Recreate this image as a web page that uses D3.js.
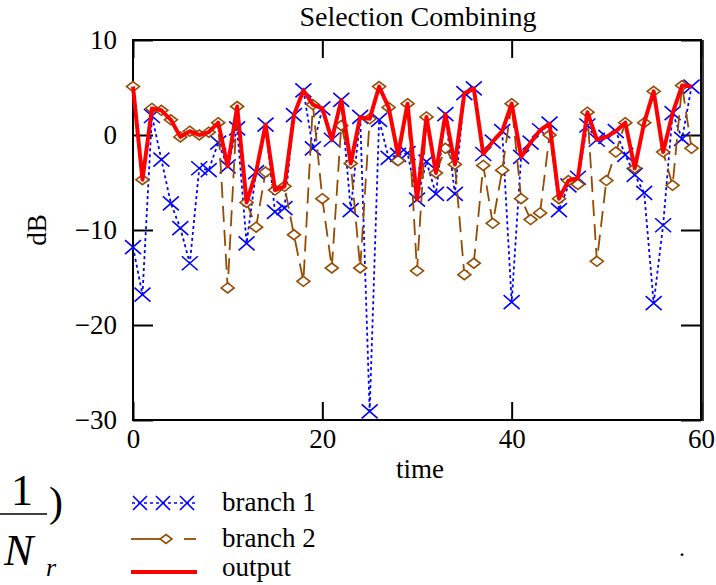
<!DOCTYPE html>
<html>
<head>
<meta charset="utf-8">
<script src="https://cdn.jsdelivr.net/npm/d3@7"></script>
<style>
  body { margin: 0; background: #fff; }
  svg text { font-family: "Liberation Serif", "Times New Roman", Times, "DejaVu Serif", serif; fill: #000; }
</style>
</head>
<body>
<svg id="chart" width="716" height="585"></svg>
<script>
// values, dB per time step 0..59
var branch1 = [-11.8, -16.8, 2.0, -2.6, -7.2, -9.8, -13.5, -3.5, -3.7, -0.8,
               -3.3, 0.7, -11.4, -3.9, 1.1, -8.1, -7.7, 2.1, 4.7, -1.4,
               2.8, -0.5, 3.7, -7.9, 1.9, -29.1, 1.6, -2.4, -2.1, -1.9,
               -6.8, -2.8, -6.2, 2.2, -6.2, 4.4, 4.9, -2.0, -0.7, 0.4,
               -17.6, -2.3, -0.8, 0.5, 1.2, -7.9, -5.3, -4.5, 1.0, -0.5,
               -0.2, 0.4, -2.1, -4.2, -6.1, -17.7, -9.5, 2.3, -0.4, 5.1]
var branch2 = [5.1, -4.7, 2.8, 2.6, 1.6, -0.2, 0.4, 0.0, 0.3, 1.3,
               -16.1, 3.0, -7.1, -9.7, -3.9, -5.8, -5.4, -10.5, -15.4, 3.2,
               -6.7, -14.0, 1.0, -3.0, -14.0, 1.7, 5.1, 2.9, -2.7, 3.3,
               -14.3, 1.9, -4.0, -1.4, -3.1, -14.7, -13.5, -3.2, -9.3, -3.7,
               3.3, -6.7, -8.9, -8.2, 0.0, -6.7, -4.8, -5.2, 2.4, -13.3,
               -4.8, -1.8, 1.3, -3.5, 1.3, 4.6, -1.8, -5.3, 5.2, -1.4]
var output  = [5.1, -4.7, 2.8, 2.6, 1.6, -0.2, 0.4, 0.0, 0.3, 1.3,
               -3.3, 3.0, -7.1, -3.9, 1.1, -5.8, -5.4, 2.1, 4.7, 3.2,
               2.8, -0.5, 3.7, -3.0, 1.9, 1.7, 5.1, 2.9, -2.1, 3.3,
               -6.8, 1.9, -4.0, 2.2, -3.1, 4.4, 4.9, -2.0, -0.7, 0.4,
               3.3, -2.3, -0.8, 0.5, 1.2, -6.7, -4.8, -4.5, 2.4, -0.5,
               -0.2, 0.4, 1.3, -3.5, 1.3, 4.6, -1.8, 2.3, 5.2, 5.1]
var time = branch1.map(function(d, i) { return i })

var xTicks = [0, 20, 40, 60]
var yTicks = [10, 0, -10, -20, -30]
var legendNames = ["branch 1", "branch 2", "output"]

var blue = "#0000ff", brown = "#964b00", red = "#ff0000"
var fs = 27
var serif = "Liberation Serif, Times New Roman, DejaVu Serif, serif"

var svg = d3.select("#chart")
var x = d3.scaleLinear().domain([0, 60]).range([133, 701])
var y = d3.scaleLinear().domain([-30, 10]).range([420, 40])

// inward ticks on all four sides, labels only left and bottom
svg.append("g").attr("transform", "translate(133,0)")
  .call(d3.axisLeft(y).tickValues(yTicks).tickSize(-20).tickPadding(16))
svg.append("g").attr("transform", "translate(0,420)")
  .call(d3.axisBottom(x).tickValues(xTicks).tickSize(-18).tickPadding(9))
svg.append("g").attr("transform", "translate(0,40)")
  .call(d3.axisTop(x).tickValues(xTicks).tickSize(-18).tickFormat(function() { return "" }))
svg.append("g").attr("transform", "translate(701,0)")
  .call(d3.axisRight(y).tickValues(yTicks).tickSize(-20).tickFormat(function() { return "" }))

svg.selectAll(".domain").remove()
svg.selectAll("g").attr("font-family", serif)
svg.selectAll(".tick line").attr("stroke", "#000").attr("stroke-width", 2)
svg.selectAll(".tick text")
   .attr("font-size", fs)
   .attr("fill", "#000")

svg.append("rect")
   .attr("x", 133).attr("y", 40).attr("width", 568).attr("height", 380)
   .attr("fill", "none").attr("stroke", "#000").attr("stroke-width", 2)
svg.append("line").attr("x1", 703).attr("x2", 703).attr("y1", 40).attr("y2", 421)
   .attr("stroke", "#000").attr("stroke-width", 1.5)

var line = d3.line()
  .x(function(d, i) { return x(time[i]) })
  .y(function(d) { return y(d) })

// branch 1
svg.append("path").datum(branch1).attr("d", line)
   .attr("fill", "none").attr("stroke", blue).attr("stroke-width", 1.8)
   .attr("stroke-dasharray", "3,3")
svg.selectAll(".b1").data(branch1).enter().append("path")
   .attr("class", "b1")
   .attr("transform", function(d, i) { return "translate(" + x(time[i]) + "," + y(d) + ")" })
   .attr("d", "M-8,-7L8,7M-8,7L8,-7")
   .attr("stroke", blue).attr("stroke-width", 1.6).attr("fill", "none")

// branch 2
svg.append("path").datum(branch2).attr("d", line)
   .attr("fill", "none").attr("stroke", brown).attr("stroke-width", 1.8)
   .attr("stroke-dasharray", "16,8")
svg.selectAll(".b2").data(branch2).enter().append("path")
   .attr("class", "b2")
   .attr("transform", function(d, i) { return "translate(" + x(time[i]) + "," + y(d) + ")" })
   .attr("d", "M0,-5L6.5,0L0,5L-6.5,0Z")
   .attr("stroke", brown).attr("stroke-width", 1.6).attr("fill", "#fff")

// output
svg.append("path").datum(output).attr("d", line)
   .attr("fill", "none").attr("stroke", red).attr("stroke-width", 4)
   .attr("stroke-linejoin", "round")

// titles
svg.append("text").attr("x", 418).attr("y", 26).attr("text-anchor", "middle")
   .attr("font-size", 28).text("Selection Combining")
svg.append("text").attr("x", 420).attr("y", 478).attr("text-anchor", "middle")
   .attr("font-size", fs).text("time")
svg.append("text").attr("transform", "translate(46,230) rotate(-90)")
   .attr("text-anchor", "middle").attr("font-size", fs).text("dB")

// legend
var legY = [503, 539, 572]
var legText = [511, 547, 576]
svg.selectAll(".legtext").data(legendNames).enter().append("text")
   .attr("class", "legtext")
   .attr("x", 222).attr("y", function(d, i) { return legText[i] })
   .attr("font-size", fs).text(function(d) { return d })

svg.append("line").attr("x1", 132).attr("x2", 196).attr("y1", legY[0]).attr("y2", legY[0])
   .attr("stroke", blue).attr("stroke-width", 1.6).attr("stroke-dasharray", "3,3")
svg.selectAll(".legx").data([140, 163, 187]).enter().append("path")
   .attr("class", "legx")
   .attr("transform", function(d) { return "translate(" + d + "," + legY[0] + ")" })
   .attr("d", "M-7,-7L7,7M-7,7L7,-7")
   .attr("stroke", blue).attr("stroke-width", 1.6)

svg.append("line").attr("x1", 131).attr("x2", 160).attr("y1", legY[1]).attr("y2", legY[1])
   .attr("stroke", brown).attr("stroke-width", 1.8)
svg.append("line").attr("x1", 184).attr("x2", 196).attr("y1", legY[1]).attr("y2", legY[1])
   .attr("stroke", brown).attr("stroke-width", 1.8)
svg.append("path").attr("transform", "translate(166," + legY[1] + ")")
   .attr("d", "M0,-4.5L6,0L0,4.5L-6,0Z")
   .attr("stroke", brown).attr("stroke-width", 1.6).attr("fill", "#fff")

svg.append("line").attr("x1", 131).attr("x2", 197).attr("y1", legY[2]).attr("y2", legY[2])
   .attr("stroke", red).attr("stroke-width", 4)

// leftover formula fragment at the lower left
svg.append("text").attr("x", 22).attr("y", 505).attr("text-anchor", "middle")
   .attr("font-size", 44).text("1")
svg.append("line").attr("x1", 0).attr("x2", 47).attr("y1", 514).attr("y2", 514)
   .attr("stroke", "#000").attr("stroke-width", 1.5)
svg.append("text").attr("x", 4).attr("y", 565)
   .attr("font-size", 44).attr("font-style", "italic").text("N")
svg.append("text").attr("x", 46).attr("y", 576)
   .attr("font-size", 26).attr("font-style", "italic").text("r")
svg.append("text").attr("x", 49).attr("y", 516)
   .attr("font-size", 42).text(")")
svg.append("text").attr("x", 679).attr("y", 556)
   .attr("font-size", 24).text(".")
</script>
</body>
</html>
